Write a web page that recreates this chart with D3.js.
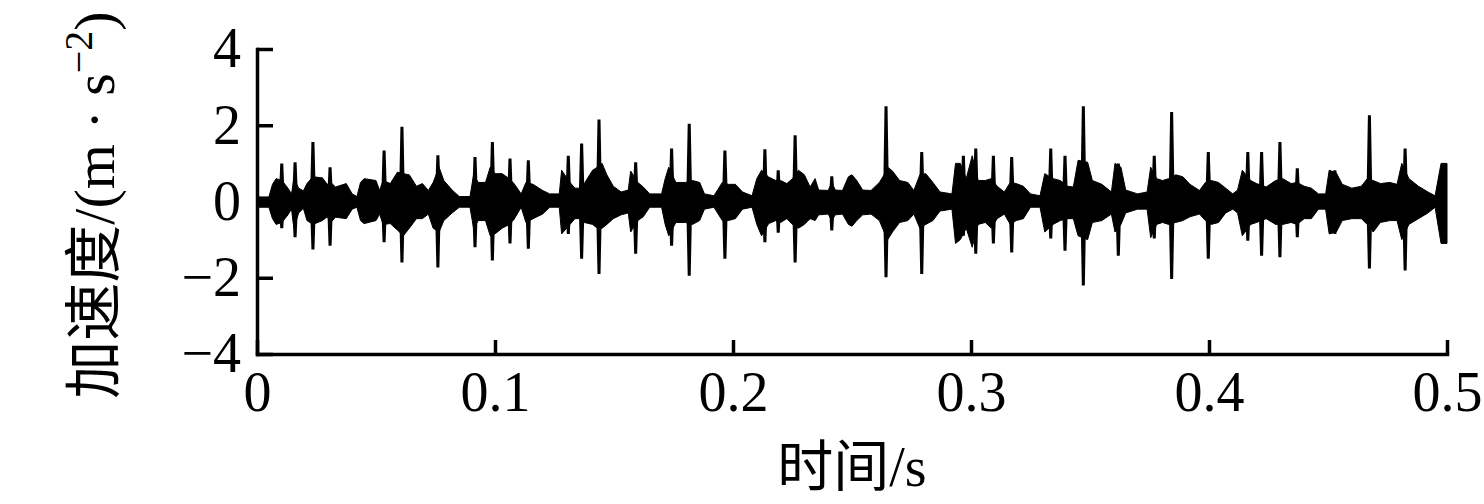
<!DOCTYPE html>
<html>
<head>
  <meta charset="utf-8">
  <title>加速度时程</title>
  <script src="https://d3js.org/d3.v7.min.js"></script>
  <style>
    body { margin: 0; background: #fff; }
    .tick text { font-family: "Liberation Serif", "Times New Roman", serif; font-size: 56px; fill: #000; }
    .axis path, .axis line { stroke: #000; stroke-width: 3.5; }
    .titulo { font-family: "Liberation Serif", "Noto Sans CJK SC", serif; fill: #000; }
  </style>
</head>
<body>
  <svg id="grafico"></svg>

  <script>
    // envolvente de la señal (tiempo en ms, aceleración en m/s^2)
    const envT = [0, 5, 6.5, 8, 10.5, 13, 14.5, 15.5, 17.5, 19.5, 21, 23.5, 27.5, 29.5, 31, 33, 37.5, 40, 42, 43.5,
      45, 50, 51.5, 53, 56, 59, 61.5, 64, 67, 69.5, 72, 74, 76.5, 78.5, 82, 85, 89.5, 91, 93, 96,
      98, 100, 103, 106, 108, 111, 113, 116, 120, 123, 127, 128, 131.5, 133.6, 135.5, 137.5, 141, 143, 145, 147,
      149.7, 153, 156, 157, 160, 162.3, 165, 170, 171.5, 173, 176, 180, 183, 186, 188, 192, 195.5, 198, 201, 204,
      208, 210, 212, 215, 218, 220, 222.6, 225, 227.5, 230, 232.4, 234.5, 236, 240, 241.5, 243, 246, 248.5, 250, 252,
      254.5, 258, 261.5, 263.5, 265, 267, 270, 273.5, 276, 278.5, 281, 284, 287, 292, 293.5, 295.5, 298, 300.5, 303, 306,
      308.5, 311, 314, 316.5, 319, 322, 325, 329, 331, 334.5, 337.5, 340.5, 343, 345, 349, 351, 355, 359, 360.5, 363,
      365, 370, 374, 375.5, 378, 380.5, 383, 386, 389, 392, 396, 398.5, 401, 404, 407, 410, 412, 414, 417.5, 420,
      424, 428, 431, 434.5, 437, 440, 443, 446, 449, 450.5, 453.5, 456, 460, 464, 466.5, 469, 472, 476, 479, 481,
      484, 488, 492, 495, 497.5, 500];
    const envArriba = [0.12, 0.12, 0.45, 0.6, 0.55, 0.35, 0.2, 0.6, 0.35, 0.28, 0.47, 0.65, 0.62, 0.45, 0.5, 0.38, 0.47, 0.2, 0.13, 0.5,
      0.6, 0.55, 0.29, 0.55, 0.47, 0.77, 0.73, 0.7, 0.4, 0.47, 0.29, 0.5, 0.9, 0.55, 0.3, 0.13, 0.13, 0.7, 0.5, 0.5,
      0.9, 0.73, 0.73, 0.6, 0.47, 0.2, 0.5, 0.45, 0.29, 0.2, 0.2, 0.82, 0.5, 0.35, 0.35, 0.47, 0.82, 0.9, 1.0, 0.7,
      0.4, 0.25, 0.3, 0.8, 0.5, 0.38, 0.2, 0.2, 0.6, 0.9, 0.5, 0.5, 0.55, 0.5, 0.2, 0.15, 0.5, 0.45, 0.45, 0.25,
      0.15, 0.6, 0.82, 0.64, 0.55, 0.55, 0.47, 0.6, 0.82, 0.7, 0.38, 0.6, 0.3, 0.29, 0.5, 0.3, 0.29, 0.65, 0.7, 0.55,
      0.3, 0.29, 0.5, 0.7, 0.9, 0.8, 0.55, 0.5, 0.29, 0.7, 0.73, 0.5, 0.25, 0.2, 1.0, 1.0, 0.6, 1.2, 0.55, 0.55,
      0.6, 0.4, 0.25, 0.5, 0.47, 0.4, 0.2, 0.15, 0.73, 0.6, 0.55, 0.4, 0.38, 1.08, 1.03, 0.55, 0.45, 0.25, 1.0, 0.9,
      0.3, 0.2, 0.25, 0.9, 0.6, 0.55, 0.6, 0.7, 0.65, 0.45, 0.29, 0.5, 0.55, 0.5, 0.35, 0.2, 0.3, 0.82, 0.55, 0.47,
      0.38, 0.55, 0.6, 0.47, 0.5, 0.4, 0.35, 0.2, 0.2, 0.82, 0.75, 0.45, 0.35, 0.4, 0.6, 0.55, 0.47, 0.5, 0.45, 1.0,
      0.6, 0.4, 0.25, 0.15, 1.0, 1.0];
    const envAbajo = [-0.15, -0.15, -0.45, -0.6, -0.55, -0.35, -0.2, -0.7, -0.3, -0.18, -0.5, -0.6, -0.5, -0.4, -0.55, -0.41, -0.45, -0.2, -0.15, -0.5,
      -0.58, -0.5, -0.33, -0.6, -0.58, -0.75, -0.9, -0.7, -0.45, -0.45, -0.33, -0.7, -0.8, -0.5, -0.3, -0.15, -0.15, -0.7, -0.5, -0.5,
      -0.9, -0.85, -0.7, -0.6, -0.47, -0.15, -0.55, -0.45, -0.33, -0.15, -0.15, -0.85, -0.6, -0.45, -0.45, -0.55, -0.6, -0.7, -0.7, -0.6,
      -0.45, -0.35, -0.3, -0.8, -0.5, -0.4, -0.15, -0.15, -0.6, -0.9, -0.55, -0.55, -0.6, -0.5, -0.2, -0.15, -0.5, -0.5, -0.45, -0.2,
      -0.15, -0.6, -0.9, -0.58, -0.5, -0.55, -0.45, -0.6, -0.7, -0.6, -0.45, -0.5, -0.35, -0.33, -0.5, -0.35, -0.33, -0.6, -0.65, -0.5,
      -0.35, -0.33, -0.5, -0.8, -1.0, -0.8, -0.55, -0.5, -0.33, -0.7, -0.6, -0.5, -0.25, -0.2, -1.1, -1.0, -0.7, -1.2, -0.6, -0.55,
      -0.7, -0.45, -0.33, -0.6, -0.5, -0.45, -0.15, -0.15, -0.8, -0.6, -0.5, -0.45, -0.45, -0.9, -1.0, -0.55, -0.5, -0.33, -0.8, -0.6,
      -0.3, -0.2, -0.2, -0.95, -0.6, -0.55, -0.6, -0.55, -0.5, -0.4, -0.33, -0.5, -0.6, -0.55, -0.3, -0.2, -0.3, -0.9, -0.6, -0.55,
      -0.45, -0.6, -0.6, -0.55, -0.6, -0.45, -0.45, -0.2, -0.2, -0.85, -0.8, -0.5, -0.45, -0.45, -0.6, -0.8, -0.55, -0.5, -0.5, -1.0,
      -0.6, -0.45, -0.3, -0.15, -1.1, -1.1];

    // picos aislados
    const picoT = [10.4, 16, 23.5, 30.7, 53.4, 60.9, 76, 91.6, 98.9, 106.3, 114, 130.8, 136.4, 143.7, 159.1, 174.2, 181.6, 196.6,
      213.4, 219, 226.1, 241.5, 264.3, 279.3, 296.8, 302, 309.4, 317.1, 333.5, 339.5, 347.2, 361.9, 377, 384.3, 399.7,
      416.3, 422.1, 429.8, 437.1, 452.9, 467.4, 482.4];
    const picoArriba = [1.0, 1.03, 1.56, 0.9, 1.34, 1.96, 1.21, 1.17, 1.56, 1.13, 1.08, 1.2, 1.52, 2.15, 1.03, 1.39, 2.04, 1.34,
      1.37, 0.82, 1.74, 0.66, 2.5, 1.3, 1.2, 1.39, 1.2, 1.17, 1.39, 1.2, 2.5, 1.0, 1.2, 2.35, 1.3,
      1.3, 1.3, 1.56, 0.87, 0.82, 2.26, 1.39];
    const picoAbajo = [-0.7, -0.94, -1.26, -1.16, -1.07, -1.6, -1.73, -1.2, -1.55, -1.1, -1.24, -0.85, -1.5, -1.9, -1.37, -1.16, -1.95, -1.5,
      -1.07, -0.82, -1.6, -0.76, -1.99, -1.9, -0.9, -1.37, -1.1, -1.34, -0.97, -1.29, -2.2, -1.42, -0.97, -2.03, -1.5,
      -1.03, -1.42, -1.46, -0.94, -0.85, -1.76, -1.81];

    const xTicks = [0, 0.1, 0.2, 0.3, 0.4, 0.5];
    const xEtiquetas = ["0", "0.1", "0.2", "0.3", "0.4", "0.5"];
    const yTicks = [-4, -2, 0, 2, 4];

    const ancho = 1484, alto = 504;
    const izq = 257, der = 1447, arriba = 49, abajo = 354;

    const svg = d3.select("#grafico")
      .attr("width", ancho)
      .attr("height", alto);

    const x = d3.scaleLinear().domain([0, 0.5]).range([izq, der]);
    const y = d3.scaleLinear().domain([-4, 4]).range([abajo, arriba]);

    const envolvente = envT.map((t, i) => ({ t: t / 1000, a: envArriba[i], b: envAbajo[i] }));
    const picos = picoT.map((t, i) => ({ t: t / 1000, a: picoArriba[i], b: picoAbajo[i] }));

    const area = d3.area()
      .x(d => x(d.t))
      .y0(d => y(d.b))
      .y1(d => y(d.a));

    svg.append("path")
      .datum(envolvente)
      .attr("d", area)
      .attr("fill", "#000")
      .attr("stroke", "#000")
      .attr("stroke-width", 1);

    svg.selectAll(".pico")
      .data(picos)
      .enter()
      .append("path")
      .attr("class", "pico")
      .attr("fill", "#000")
      .attr("d", d => {
        const cx = x(d.t);
        return `M${cx - 1.5},${y(d.a)} L${cx + 1.5},${y(d.a)} L${cx + 3},${y(0)} L${cx + 1.5},${y(d.b)} L${cx - 1.5},${y(d.b)} L${cx - 3},${y(0)} Z`;
      });

    svg.append("g")
      .attr("class", "axis")
      .attr("transform", `translate(0,${abajo})`)
      .call(d3.axisBottom(x)
        .tickValues(xTicks)
        .tickFormat((d, i) => xEtiquetas[i])
        .tickSizeInner(-14)
        .tickSizeOuter(0)
        .tickPadding(17));

    svg.append("g")
      .attr("class", "axis")
      .attr("transform", `translate(${izq},0)`)
      .call(d3.axisLeft(y)
        .tickValues(yTicks)
        .tickFormat(d3.format("d"))
        .tickSizeInner(-16)
        .tickSizeOuter(0)
        .tickPadding(16));

    svg.selectAll(".axis path.domain").attr("stroke-linecap", "square");

    svg.append("text")
      .attr("class", "titulo")
      .attr("x", 852)
      .attr("y", 486)
      .attr("font-size", 56)
      .attr("text-anchor", "middle")
      .text("时间/s");

    const ty = svg.append("text")
      .attr("class", "titulo")
      .attr("font-size", 58)
      .attr("transform", "translate(114,205) rotate(-90)")
      .attr("text-anchor", "middle");
    ty.append("tspan").text("加速度/(m · s");
    ty.append("tspan").attr("dy", -22).attr("font-size", 40).text("−2");
    ty.append("tspan").attr("dy", 22).text(")");
  </script>
</body>
</html>
